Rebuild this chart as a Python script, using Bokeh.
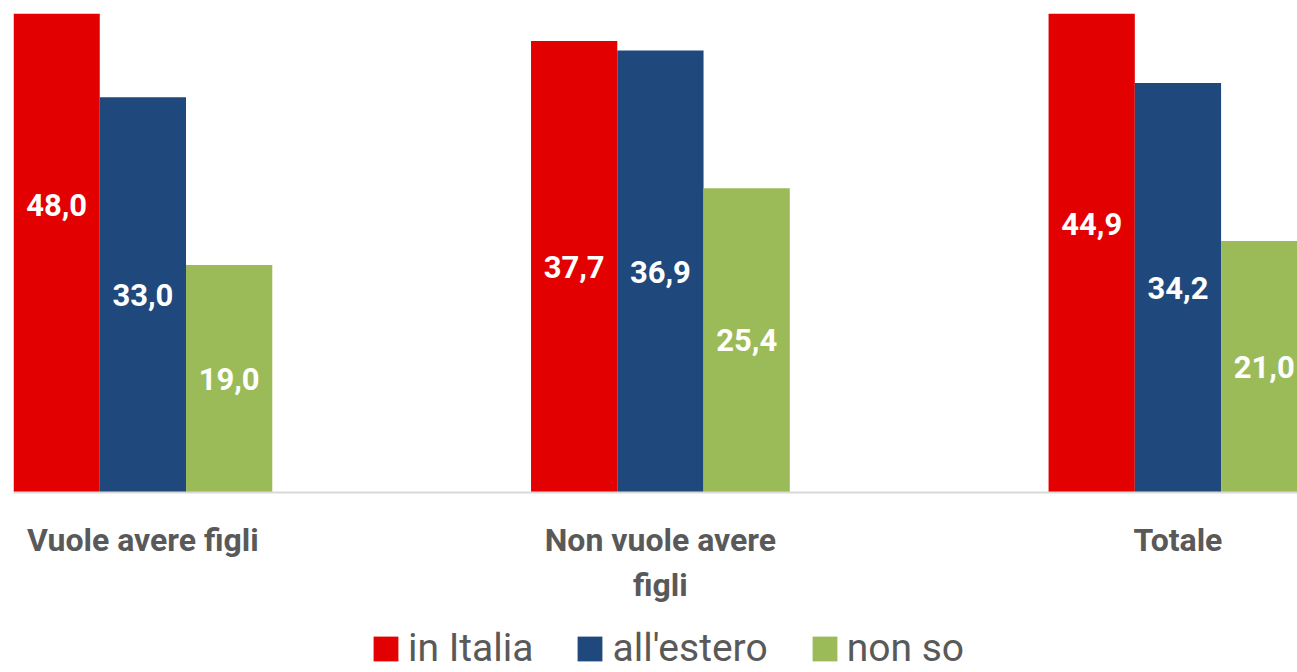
import numpy as np
from bokeh.plotting import figure
from bokeh.layouts import column
from bokeh.models import ColumnDataSource, Legend, LegendItem, FixedTicker, Range1d
from bokeh.core.properties import value
from bokeh.embed import file_html
from bokeh.resources import INLINE

categories = ["Vuole avere figli", "Non vuole avere\nfigli", "Totale"]
series = ["in Italia", "all'estero", "non so"]
in_italia = [48.0, 37.7, 44.9]
all_estero = [33.0, 36.9, 34.2]
non_so = [19.0, 25.4, 21.0]
colors = ["#E30000", "#1F497D", "#9BBB59"]

FONT = "Roboto"
TEXT_COLOR = "#595959"

p = figure(frame_width=1284, frame_height=479, output_backend="svg", toolbar_location=None,
           x_range=Range1d(-0.25, 2.231), y_range=Range1d(0, 40),
           min_border_top=13, min_border_left=13, min_border_right=0,
           min_border_bottom=128)

bar_w = 1.0 / 6.0
offsets = [-bar_w, 0.0, bar_w]
idx = np.arange(len(categories))
for vals, off, col in zip([in_italia, all_estero, non_so], offsets, colors):
    src = ColumnDataSource(dict(
        x=idx + off,
        top=vals,
        ymid=[v / 2 for v in vals],
        label=[f"{v:.1f}".replace(".", ",") for v in vals],
    ))
    p.vbar(x="x", top="top", bottom=0, width=bar_w, source=src,
           fill_color=col, line_color=None)
    p.text(x="x", y="ymid", text="label", source=src, text_color="white",
           text_font=value(FONT), text_font_style="bold", text_font_size="31px",
           text_align="center", text_baseline="middle")

p.yaxis.visible = False
p.xgrid.visible = False
p.ygrid.visible = False
p.outline_line_color = None

ax = p.xaxis[0]
ax.ticker = FixedTicker(ticks=list(idx))
ax.major_label_overrides = {int(i): c for i, c in zip(idx, categories)}
ax.major_tick_line_color = None
ax.minor_tick_line_color = None
ax.axis_line_color = "#D9D9D9"
ax.axis_line_width = 2
ax.major_label_text_font = FONT
ax.major_label_text_font_style = "bold"
ax.major_label_text_font_size = "32px"
ax.major_label_text_color = TEXT_COLOR
ax.major_label_standoff = 22

# legend strip below the chart (dummy renderers kept outside the visible range)
lg = figure(width=1297, height=52, output_backend="svg", toolbar_location=None,
            x_range=Range1d(0, 1), y_range=Range1d(0, 1),
            min_border=0, min_border_left=0, min_border_right=0,
            min_border_top=0, min_border_bottom=0)
lg.axis.visible = False
lg.grid.visible = False
lg.outline_line_color = None
legend_renderers = []
for col in colors:
    r = lg.vbar(x="x", top="top", bottom="bottom", width=0.1,
                source=ColumnDataSource(dict(x=[10.0], top=[11.0], bottom=[10.0])),
                fill_color=col, line_color=None)
    legend_renderers.append(r)

legend = Legend(
    items=[LegendItem(label=s, renderers=[r]) for s, r in zip(series, legend_renderers)],
    orientation="horizontal", location=(357, 1),
    label_text_font=FONT, label_text_font_size="39px", label_text_color=TEXT_COLOR,
    glyph_width=31, glyph_height=31, label_standoff=7, spacing=41,
    border_line_color=None, padding=0, margin=0, background_fill_alpha=0,
)
lg.add_layout(legend, "center")

layout = column(p, lg, spacing=0)
open("out.html", "w").write(file_html(layout, INLINE))
